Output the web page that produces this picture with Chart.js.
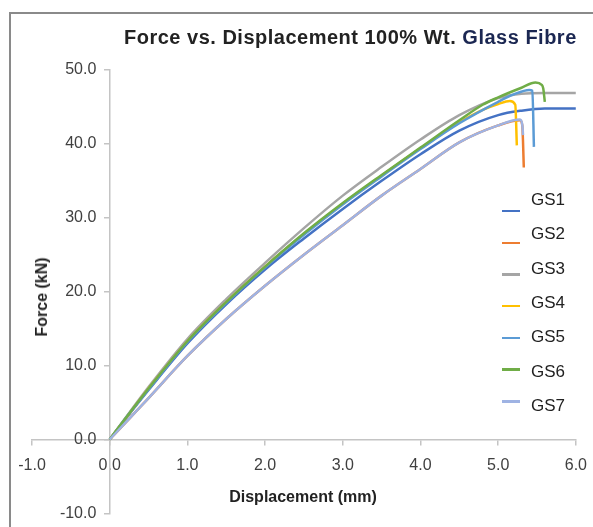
<!DOCTYPE html>
<html>
<head>
<meta charset="utf-8">
<script src="https://cdn.jsdelivr.net/npm/chart.js@4/dist/chart.umd.min.js"></script>
<style>
  body { margin: 0; background: #fff; }
  #wrap { position: relative; width: 593px; height: 527px; overflow: hidden; font-family: 'Liberation Sans', Arial, sans-serif; }
  #frame { position: absolute; left: 9px; top: 12px; width: 700px; height: 700px; border: 2px solid #8a8a8a; }
  #chart { position: absolute; left: 0; top: 0; }
  #title { position: absolute; left: 124px; top: 27px; font-size: 20px; line-height: 20px; font-weight: bold; letter-spacing: 0.5px; color: #222; white-space: nowrap; }
  #title span { color: #1b2752; }
  .axtitle { position: absolute; font-size: 16px; font-weight: bold; color: #222; white-space: nowrap; }
  #xtitle { left: 303px; top: 497px; transform: translate(-50%, -50%); }
  #ytitle { left: 42px; top: 297px; transform: translate(-50%, -50%) rotate(-90deg); }
  .leg-line { position: absolute; width: 18px; height: 2.5px; }
  .leg-text { position: absolute; font-size: 17px; color: #222; transform: translateY(-50%); }
</style>
</head>
<body>
<div id="wrap">
  <div id="frame"></div>
  <!-- a little wider than the page: the last x label reserves room on the right -->
  <canvas id="chart" width="598" height="527"></canvas>
  <div id="title">Force vs. Displacement 100% Wt. <span>Glass Fibre</span></div>
  <div class="axtitle" id="xtitle">Displacement (mm)</div>
  <div class="axtitle" id="ytitle">Force (kN)</div>
  <div id="legend"></div>
</div>
<script>
// series: displacement (mm) / force (kN)
const seriesNames = ['GS1', 'GS2', 'GS3', 'GS4', 'GS5', 'GS6', 'GS7'];

const gs1X = [0, 0.25, 0.5, 1.0, 1.5, 2.0, 2.5, 3.0, 3.5, 4.0, 4.5, 5.0, 5.3, 5.6, 6.0];
const gs1Y = [0, 3.4, 6.7, 13.0, 18.3, 23.0, 27.2, 31.2, 35.0, 38.6, 41.8, 43.9, 44.5, 44.8, 44.8];

const gs2X = [0, 0.25, 0.5, 1.0, 1.5, 2.0, 2.5, 3.0, 3.5, 4.0, 4.5, 5.0, 5.28, 5.31, 5.33];
const gs2Y = [0, 2.8, 5.6, 11.3, 16.3, 20.8, 25.0, 29.0, 33.0, 36.6, 40.2, 42.5, 43.2, 42.5, 36.8];

const gs3X = [0, 0.25, 0.5, 1.0, 1.5, 2.0, 2.5, 3.0, 3.5, 4.0, 4.5, 5.0, 5.3, 5.6, 6.0];
const gs3Y = [0, 3.6, 7.1, 13.6, 19.0, 23.9, 28.6, 33.0, 36.9, 40.6, 43.9, 46.2, 46.8, 46.9, 46.9];

const gs4X = [0, 0.25, 0.5, 1.0, 1.5, 2.0, 2.5, 3.0, 3.5, 4.0, 4.5, 4.8, 5.0, 5.15, 5.22, 5.24];
const gs4Y = [0, 3.5, 6.9, 13.3, 18.6, 23.4, 27.8, 31.9, 35.7, 39.4, 42.9, 44.6, 45.4, 45.8, 45.3, 39.8];

const gs5X = [0, 0.25, 0.5, 1.0, 1.5, 2.0, 2.5, 3.0, 3.5, 4.0, 4.5, 5.0, 5.2, 5.4, 5.44, 5.46];
const gs5Y = [0, 3.5, 6.8, 13.2, 18.5, 23.3, 27.7, 31.8, 35.6, 39.3, 42.8, 45.7, 46.7, 47.3, 47.2, 39.6];

const gs6X = [0, 0.25, 0.5, 1.0, 1.5, 2.0, 2.5, 3.0, 3.5, 4.0, 4.5, 4.8, 5.0, 5.3, 5.48, 5.56, 5.58, 5.6];
const gs6Y = [0, 3.5, 6.9, 13.3, 18.6, 23.4, 27.9, 32.0, 35.8, 39.5, 43.2, 45.3, 46.3, 47.6, 48.3, 48.0, 47.5, 45.7];

const gs7X = [0, 0.25, 0.5, 1.0, 1.5, 2.0, 2.5, 3.0, 3.5, 4.0, 4.5, 5.0, 5.28, 5.31, 5.32];
const gs7Y = [0, 2.8, 5.6, 11.3, 16.3, 20.8, 25.0, 29.0, 33.0, 36.6, 40.2, 42.5, 43.3, 42.6, 41.2];

const xTicks = [-1, 0, 1, 2, 3, 4, 5, 6];
const yTicks = [-10, 0, 10, 20, 30, 40, 50];

const colors = ['#4472c4', '#ed7d31', '#a5a5a5', '#ffc000', '#5b9bd5', '#70ad47', '#9fb3e3'];

const allX = [gs1X, gs2X, gs3X, gs4X, gs5X, gs6X, gs7X];
const allY = [gs1Y, gs2Y, gs3Y, gs4Y, gs5Y, gs6Y, gs7Y];

const datasets = seriesNames.map((name, i) => ({
  label: name,
  data: allX[i].map((x, j) => ({ x: x, y: allY[i][j] })),
  borderColor: colors[i],
  backgroundColor: colors[i],
  borderWidth: 2.5,
  pointRadius: 0,
  cubicInterpolationMode: 'monotone',
  fill: false,
  order: seriesNames.length - i   // later series on top, like Excel
}));

// html legend, Excel style (line sits a bit below the text for the first rows)
const legend = document.getElementById('legend');
seriesNames.forEach((name, i) => {
  const line = document.createElement('div');
  line.className = 'leg-line';
  line.style.left = '502px';
  line.style.top = (211 + i * 31.7 - 1.2) + 'px';
  line.style.background = colors[i];
  legend.appendChild(line);
  const txt = document.createElement('div');
  txt.className = 'leg-text';
  txt.style.left = '531px';
  txt.style.top = (200 + i * 34.3) + 'px';
  txt.textContent = name;
  legend.appendChild(txt);
});

const tickFont = { family: "'Liberation Sans', Arial, sans-serif", size: 16 };
const axisGray = '#c4c4c4';

new Chart(document.getElementById('chart'), {
  type: 'line',
  data: { datasets: datasets },
  options: {
    responsive: false,
    animation: false,
    layout: { padding: { left: 32, right: 13, top: 70, bottom: 13 } },
    plugins: {
      legend: { display: false },
      title: { display: false },
      tooltip: { enabled: false }
    },
    scales: {
      x: {
        type: 'linear',
        min: -1,
        max: 6,
        position: { y: 0 },
        afterBuildTicks: (axis) => { axis.ticks = xTicks.map(v => ({ value: v })); },
        ticks: { callback: v => Number(v).toFixed(1), font: tickFont, color: '#404040', padding: 11, maxRotation: 0 },
        grid: { drawOnChartArea: false, drawTicks: true, tickLength: 5, color: axisGray, lineWidth: 1.5 },
        border: { color: axisGray, width: 1.5 }
      },
      y: {
        type: 'linear',
        min: -10,
        max: 50,
        position: { x: 0 },
        afterBuildTicks: (axis) => { axis.ticks = yTicks.map(v => ({ value: v })); },
        // trailing spaces keep the right-aligned labels clear of the axis line
        ticks: { callback: v => Number(v).toFixed(1) + '   ', font: tickFont, color: '#404040', padding: 4 },
        grid: { drawOnChartArea: false, drawTicks: true, tickLength: 5, color: axisGray, lineWidth: 1.5 },
        border: { color: axisGray, width: 1.5 }
      }
    }
  }
});
</script>
</body>
</html>
